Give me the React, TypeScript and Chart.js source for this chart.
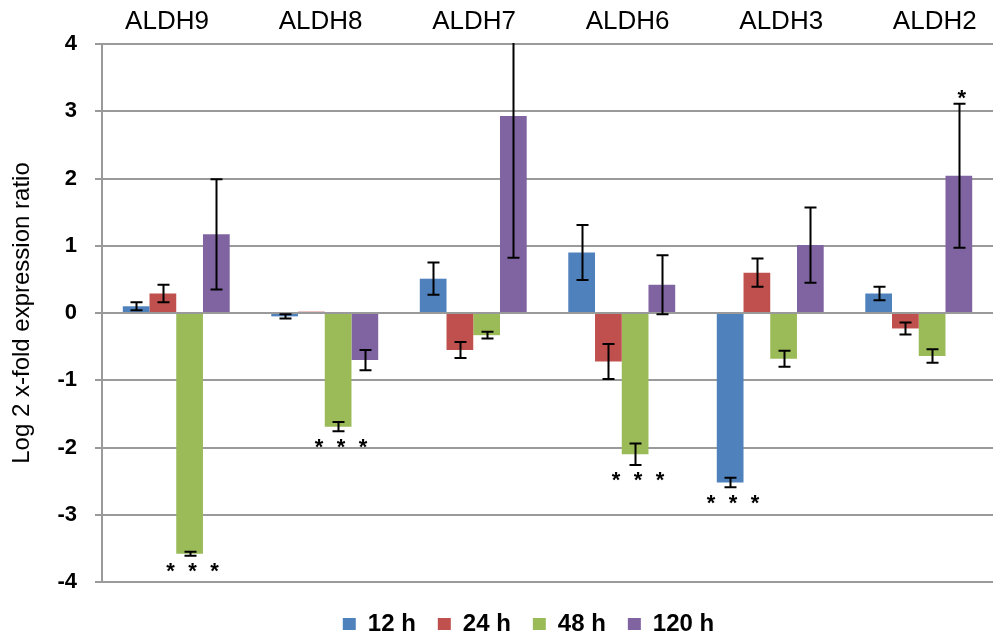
import React, { useEffect, useRef } from "react";
import { Chart, registerables } from "chart.js";

Chart.register(...registerables);

const categories = ["ALDH9", "ALDH8", "ALDH7", "ALDH6", "ALDH3", "ALDH2"];
const seriesNames = ["12 h", "24 h", "48 h", "120 h"];
const seriesColors = ["#4F81BD", "#C0504D", "#9BBB59", "#8064A2"];

const values12 = [0.1, -0.05, 0.51, 0.9, -2.52, 0.29];
const values24 = [0.29, 0.02, -0.55, -0.72, 0.6, -0.23];
const values48 = [-3.58, -1.69, -0.33, -2.1, -0.68, -0.64];
const values120 = [1.17, -0.7, 2.93, 0.42, 1.01, 2.04];

const err12 = [0.06, 0.03, 0.24, 0.41, 0.07, 0.1];
const err24 = [0.13, 0.0, 0.12, 0.26, 0.21, 0.09];
const err48 = [0.03, 0.07, 0.05, 0.16, 0.12, 0.1];
const err120 = [0.82, 0.15, 2.11, 0.44, 0.56, 1.07];

const sig12 = ["", "", "", "", "***", ""];
const sig24 = ["", "", "", "", "", ""];
const sig48 = ["***", "***", "", "***", "", ""];
const sig120 = ["", "", "", "", "", "*"];

const yTicks = [-4, -3, -2, -1, 0, 1, 2, 3, 4];
const yTitle = "Log 2 x-fold expression ratio";

const allValues = [values12, values24, values48, values120];
const allErrors = [err12, err24, err48, err120];
const allSig = [sig12, sig24, sig48, sig120];

const FONT = "'Liberation Sans', Arial, sans-serif";

// category header labels drawn above the plot, spread slightly wider than the bar groups
const headerPlugin = {
  id: "headers",
  afterDraw(chart: any) {
    const ctx = chart.ctx;
    const xs = chart.scales.x;
    const mid = (chart.chartArea.left + chart.chartArea.right) / 2 - 100;
    ctx.save();
    ctx.fillStyle = "#000";
    ctx.font = `26px ${FONT}`;
    ctx.textAlign = "center";
    ctx.textBaseline = "middle";
    categories.forEach((c, i) => {
      const px = xs.getPixelForValue(i);
      const x = px + (px - mid) * 0.034;
      ctx.fillText(c, x, chart.chartArea.top / 2);
    });
    ctx.restore();
  },
};

const legendShiftPlugin = {
  id: "legendShift",
  afterLayout(chart: any) {
    const lg = chart.legend;
    if (!lg) return;
    lg.top += 8;
    lg.bottom += 8;
    lg.left += 32;
    lg.right += 32;
  },
};

const errorBarPlugin = {
  id: "errorBars",
  afterDatasetsDraw(chart: any) {
    const ctx = chart.ctx;
    const yScale = chart.scales.y;
    const area = chart.chartArea;
    ctx.save();
    ctx.beginPath();
    ctx.rect(area.left, area.top - 1, area.right - area.left, area.bottom - area.top + 2);
    ctx.clip();
    ctx.strokeStyle = "#000";
    ctx.lineWidth = 2;
    chart.data.datasets.forEach((ds: any, di: number) => {
      const meta = chart.getDatasetMeta(di);
      const errs = allErrors[di];
      meta.data.forEach((bar: any, i: number) => {
        const e = errs[i];
        if (!e) return;
        const v = ds.data[i];
        const yTop = yScale.getPixelForValue(v + e);
        const yBot = yScale.getPixelForValue(v - e);
        const x = Math.round(bar.x) + 0.5;
        ctx.beginPath();
        ctx.moveTo(x, yTop);
        ctx.lineTo(x, yBot);
        ctx.moveTo(x - 6, yTop);
        ctx.lineTo(x + 6, yTop);
        ctx.moveTo(x - 6, yBot);
        ctx.lineTo(x + 6, yBot);
        ctx.stroke();
      });
    });
    ctx.restore();

    ctx.save();
    ctx.fillStyle = "#000";
    ctx.font = `bold 22px ${FONT}`;
    ctx.textAlign = "center";
    ctx.textBaseline = "alphabetic";
    chart.data.datasets.forEach((ds: any, di: number) => {
      const meta = chart.getDatasetMeta(di);
      meta.data.forEach((bar: any, i: number) => {
        const s = allSig[di][i];
        if (!s) return;
        const v = ds.data[i];
        const e = allErrors[di][i];
        const n = s.length;
        let cy: number;
        if (v < 0) {
          cy = yScale.getPixelForValue(v - e) + 10;
        } else {
          cy = yScale.getPixelForValue(v + e) - 11;
        }
        for (let k = 0; k < n; k++) {
          const x = bar.x + 3 + (k - (n - 1) / 2) * 22;
          ctx.fillText("*", x, cy + 12.5);
        }
      });
    });
    ctx.restore();
  },
};

export default function App() {
  const ref = useRef<HTMLCanvasElement | null>(null);
  useEffect(() => {
    if (!ref.current) return;
    const chart = new Chart(ref.current, {
      type: "bar",
      data: {
        labels: categories,
        datasets: seriesNames.map((name, i) => ({
          label: name,
          data: allValues[i],
          backgroundColor: seriesColors[i],
          borderWidth: 0,
          categoryPercentage: 0.72,
          barPercentage: 1.0,
        })),
      },
      options: {
        animation: false,
        responsive: false,
        maintainAspectRatio: false,
        layout: { padding: { left: 0, right: 0, top: 0, bottom: -2 } },
        plugins: {
          legend: {
            position: "bottom",
            labels: {
              boxWidth: 13,
              boxHeight: 12,
              padding: 22,
              color: "#000",
              font: { family: FONT, size: 24, weight: "bold" },
            },
          },
          tooltip: { enabled: false },
        },
        scales: {
          x: {
            position: "top",
            grid: { display: false, drawTicks: false },
            border: { display: false },
            ticks: { display: false },
            afterFit: (s: any) => {
              s.height = 44;
            },
          },
          y: {
            min: -4,
            max: 4,
            afterBuildTicks: (s: any) => {
              s.ticks = yTicks.map((v) => ({ value: v }));
            },
            grid: {
              color: "#9a9a9a",
              lineWidth: 2,
              tickLength: 7,
              drawTicks: true,
            },
            border: { display: true, color: "#9a9a9a", width: 2 },
            ticks: {
              color: "#000",
              padding: 18,
              font: { family: FONT, size: 22, weight: "bold" },
            },
            title: {
              display: true,
              text: yTitle,
              color: "#000",
              padding: { top: 8, bottom: 0 },
              font: { family: FONT, size: 24 },
            },
            afterFit: (s: any) => {
              s.width = 102;
            },
          },
        },
      },
      plugins: [errorBarPlugin, headerPlugin, legendShiftPlugin],
    });
    return () => chart.destroy();
  }, []);
  return (
    <div style={{ position: "fixed", left: 0, top: 0, width: 993, height: 636, background: "#fff" }}>
      <canvas ref={ref} width={993} height={636} style={{ width: 993, height: 636 }} />
    </div>
  );
}
